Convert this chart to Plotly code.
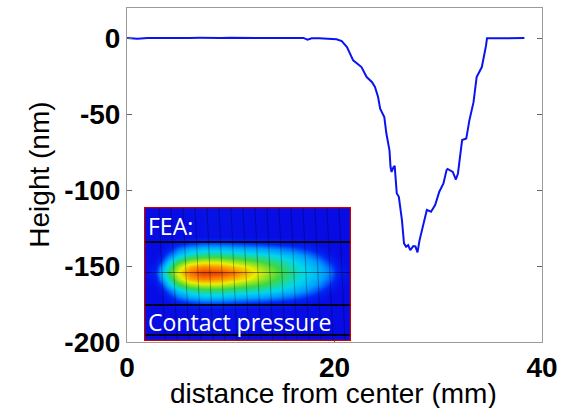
import plotly.graph_objects as go

# ---- main profile data ----
distance_mm = [0, 1, 2, 3, 4, 5, 6, 7, 8, 9, 10, 11, 12, 13, 14, 15, 16, 17, 17.4, 17.8,
               18.5, 19.5, 20.2, 20.7, 21.2, 21.8, 22.3, 22.6, 23.1, 23.6, 23.9, 24.2, 24.4,
               24.8, 25.0, 25.3, 25.4, 25.5, 25.7, 25.8, 26.0, 26.2, 26.5, 26.7, 26.9, 27.1,
               27.3, 27.6, 27.8, 28.0, 28.2, 28.6, 28.9, 29.3, 29.7, 30.1, 30.5, 30.8, 30.9,
               31.4, 31.7, 31.9, 32.3, 32.7, 33.0, 33.4, 33.7, 34.2, 34.5, 34.6, 34.7, 35.5,
               36.5, 37.5, 38.3]
height_nm = [0.2, -0.3, 0.3, 0.2, 0.5, 0.1, 0.3, 0.4, 0.2, 0.3, 0.4, 0.2, 0.3, 0.2, 0.3,
             0.2, 0.1, 0.3, -0.8, 0.1, 0.0, -0.3, -0.6, -1.8, -5.7, -14.5, -17, -18.9,
             -25.5, -28.7, -32, -38.6, -46.3, -51.8, -62.7, -73.7, -84.6, -88, -84.6, -84,
             -102, -104.4, -119.7, -135, -137.3, -136.2, -139.5, -136.8, -137, -141,
             -132.9, -121.9, -113, -114.2, -109.8, -101, -95.6, -86.8, -86, -88, -93, -89,
             -67, -66, -54, -42, -25.5, -18.9, -10, -5, 0, 0, 0.2, 0, 0.2]

x_ticks = [0, 20, 40]
y_ticks = [0, -50, -100, -150, -200]

# ---- inset (FEA contact pressure) image values ----
inset_cols = [0, 11, 16, 24, 34, 46, 59, 74, 89, 104, 119, 134, 149, 164, 176, 186, 194, 207]
inset_offsets = [0, 6, 12, 18, 24, 30, 36]
inset_half_profiles = [
    [0.02, 0.02, 0.02, 0.02, 0.02, 0.02, 0.02],
    [0.14, 0.08, 0.04, 0.02, 0.02, 0.02, 0.02],
    [0.32, 0.26, 0.14, 0.05, 0.02, 0.02, 0.02],
    [0.52, 0.46, 0.36, 0.22, 0.10, 0.03, 0.02],
    [0.70, 0.64, 0.52, 0.38, 0.25, 0.10, 0.02],
    [0.86, 0.78, 0.62, 0.46, 0.34, 0.16, 0.03],
    [0.94, 0.84, 0.66, 0.50, 0.38, 0.20, 0.04],
    [0.93, 0.82, 0.66, 0.50, 0.38, 0.20, 0.04],
    [0.87, 0.76, 0.62, 0.48, 0.36, 0.18, 0.04],
    [0.76, 0.70, 0.58, 0.46, 0.34, 0.16, 0.03],
    [0.66, 0.62, 0.54, 0.44, 0.32, 0.14, 0.03],
    [0.57, 0.54, 0.48, 0.40, 0.28, 0.11, 0.02],
    [0.48, 0.46, 0.42, 0.35, 0.23, 0.08, 0.02],
    [0.41, 0.39, 0.35, 0.27, 0.15, 0.05, 0.02],
    [0.35, 0.33, 0.27, 0.17, 0.07, 0.02, 0.02],
    [0.27, 0.23, 0.15, 0.06, 0.02, 0.02, 0.02],
    [0.12, 0.08, 0.04, 0.02, 0.02, 0.02, 0.02],
    [0.02, 0.02, 0.02, 0.02, 0.02, 0.02, 0.02],
]
inset_center = 65.5
inset_w, inset_h = 207, 134
mesh_h_lines = [35, 98, 128]
mesh_center_line = 65.5
mesh_v_lines = [18, 30, 42, 54, 66, 78, 90, 102, 114, 126, 138, 150, 162, 174, 186, 198]

# build the inset grid (mirror half profiles about the center line)
rows_y = [0] + [inset_center - o for o in reversed(inset_offsets[1:])] + \
         [inset_center + o for o in inset_offsets] + [inset_h]
z = []
for ry in rows_y:
    d = round(abs(ry - inset_center))
    idx = inset_offsets.index(d) if d in inset_offsets else len(inset_offsets) - 1
    z.append([col[idx] for col in inset_half_profiles])

fig = go.Figure()

jet_like = [[0.0, 'rgb(8,8,225)'], [0.15, 'rgb(0,40,245)'], [0.3, 'rgb(0,150,255)'],
            [0.42, 'rgb(0,215,235)'], [0.55, 'rgb(60,215,70)'], [0.7, 'rgb(235,240,0)'],
            [0.84, 'rgb(255,130,0)'], [1.0, 'rgb(215,20,10)']]

fig.add_trace(go.Heatmap(x=inset_cols, y=rows_y, z=z, zmin=0, zmax=1, colorscale=jet_like,
                         zsmooth='best', showscale=False, hoverinfo='skip',
                         xaxis='x2', yaxis='y2'))

for hy in mesh_h_lines:
    fig.add_trace(go.Scatter(x=[0, inset_w], y=[hy, hy], mode='lines',
                             line=dict(color='rgba(0,0,0,0.85)', width=1.8),
                             xaxis='x2', yaxis='y2', hoverinfo='skip', showlegend=False))
fig.add_trace(go.Scatter(x=[0, inset_w], y=[mesh_center_line, mesh_center_line], mode='lines',
                         line=dict(color='rgba(0,0,0,0.45)', width=1),
                         xaxis='x2', yaxis='y2', hoverinfo='skip', showlegend=False))
for vx in mesh_v_lines:
    fig.add_trace(go.Scatter(x=[vx - 3, vx + 3], y=[0, inset_h], mode='lines',
                             line=dict(color='rgba(0,0,0,0.3)', width=1),
                             xaxis='x2', yaxis='y2', hoverinfo='skip', showlegend=False))

fig.add_trace(go.Scatter(x=distance_mm, y=height_nm, mode='lines',
                         line=dict(color='rgb(10,20,240)', width=2), showlegend=False))

tick_font = dict(family='Liberation Sans', size=28, color='black')

fig.update_layout(
    width=585, height=408,
    margin=dict(l=127, r=43, t=8, b=66),
    plot_bgcolor='white', paper_bgcolor='white',
    showlegend=False,
    xaxis=dict(range=[0, 40], tickvals=x_ticks, ticktext=['<b>%d</b>' % v for v in x_ticks],
               tickfont=tick_font, showgrid=False, zeroline=False, showline=True,
               linecolor='#9a9a9a', linewidth=1, mirror=True, ticks='inside', ticklen=4,
               tickcolor='#666', automargin=False),
    yaxis=dict(range=[-200, 20], tickvals=y_ticks, ticktext=['<b>%d</b>' % v for v in y_ticks],
               tickfont=tick_font, showgrid=False, zeroline=False, showline=True,
               linecolor='#9a9a9a', linewidth=1, mirror='ticks', ticks='inside', ticklen=5,
               tickcolor='#666', automargin=False),
    xaxis2=dict(domain=[17 / 415, 224 / 415], range=[0, inset_w], visible=False, anchor='y2'),
    yaxis2=dict(domain=[1 / 334, 135 / 334], range=[inset_h, 0], visible=False, anchor='x2'),
)

fig.add_shape(type='rect', xref='x2', yref='y2', x0=0, x1=inset_w, y0=0, y1=inset_h,
              line=dict(color='rgb(200,0,0)', width=2.5))

inset_font = dict(family='Open Sans', size=23, color='white')
fig.add_annotation(text='FEA:', xref='x2', yref='y2', x=2, y=1, xanchor='left', yanchor='top',
                   showarrow=False, font=inset_font)
fig.add_annotation(text='Contact pressure', xref='x2', yref='y2', x=2, y=133,
                   xanchor='left', yanchor='bottom', showarrow=False, font=inset_font)

title_font = dict(family='Liberation Sans', size=28, color='black')
fig.add_annotation(text='distance from center (mm)', xref='paper', yref='paper',
                   x=0.497, y=-0.154, xanchor='center', yanchor='middle', showarrow=False,
                   font=title_font)
fig.add_annotation(text='Height (nm)', xref='paper', yref='paper', x=-0.2096, y=0.501,
                   xanchor='center', yanchor='middle', textangle=-90, showarrow=False,
                   font=title_font)

fig.write_html('out.html', post_script="document.body.style.margin='0';",
               config={'displayModeBar': False})
